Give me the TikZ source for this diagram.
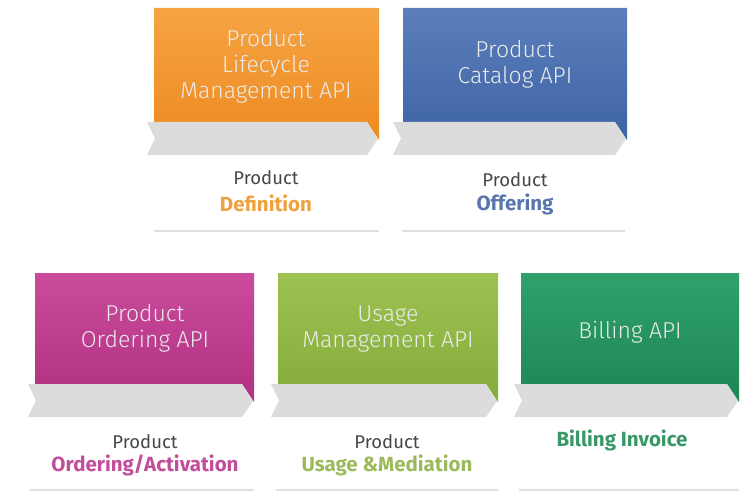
\documentclass[tikz,border=0pt]{standalone}
\usepackage{fontspec}
\setmainfont{Fira Sans}
\newfontfamily\firalight{Fira Sans Light}
\definecolor{lcotop}{HTML}{F5A443}
\definecolor{lcobot}{HTML}{EE8B21}
\definecolor{cattop}{HTML}{5C7FBB}
\definecolor{catbot}{HTML}{3E63A5}
\definecolor{ordtop}{HTML}{CA4A9C}
\definecolor{ordbot}{HTML}{B13181}
\definecolor{usgtop}{HTML}{9EC252}
\definecolor{usgbot}{HTML}{84AB3A}
\definecolor{biltop}{HTML}{30A06C}
\definecolor{bilbot}{HTML}{1D8754}
\definecolor{defcol}{HTML}{F0A03C}
\definecolor{offcol}{HTML}{5876AE}
\definecolor{ordcol}{HTML}{C24D9B}
\definecolor{usgcol}{HTML}{9CBA5C}
\definecolor{bilcol}{HTML}{3A9868}
\definecolor{chevgray}{HTML}{DCDCDC}
\begin{document}
\begin{tikzpicture}[x=1pt,y=-1pt,
	chev/.style={fill=chevgray},
	apitext/.style={font=\firalight\fontsize{23}{26}\selectfont,text=white!92!black,align=center},
	prodtext/.style={font=\fontsize{18.5}{22}\selectfont,text=black!72},
	kindtext/.style={font=\bfseries\fontsize{20.5}{22}\selectfont},
	sepline/.style={draw=black!12,line width=1.5pt}]
		\useasboundingbox (0,0) rectangle (744,492);
		% top row
		\shade[top color=lcotop,bottom color=lcobot] (154,8) -- (379,8) -- (379,140) -- (367,122) -- (154,122) -- cycle;
		\fill[chev] (147,122) -- (367,122) -- (378,139) -- (367,155) -- (147,155) -- (155,138.5) -- cycle;
		\shade[top color=cattop,bottom color=catbot] (403,8) -- (627,8) -- (627,140) -- (615,122) -- (403,122) -- cycle;
		\fill[chev] (393,122) -- (615,122) -- (626,139) -- (615,155) -- (393,155) -- (401,138.5) -- cycle;
		% bottom row
		\shade[top color=ordtop,bottom color=ordbot] (35,273) -- (254,273) -- (254,402) -- (242,384) -- (35,384) -- cycle;
		\fill[chev] (28,384) -- (242,384) -- (253,401) -- (242,417) -- (28,417) -- (36,400.5) -- cycle;
		\shade[top color=usgtop,bottom color=usgbot] (278,273) -- (498,273) -- (498,402) -- (486,384) -- (278,384) -- cycle;
		\fill[chev] (271,384) -- (486,384) -- (497,401) -- (486,417) -- (271,417) -- (279,400.5) -- cycle;
		\shade[top color=biltop,bottom color=bilbot] (521,273) -- (739,273) -- (739,402) -- (727,384) -- (521,384) -- cycle;
		\fill[chev] (514,384) -- (727,384) -- (738,401) -- (727,417) -- (514,417) -- (522,400.5) -- cycle;
		% api names
		\node[apitext] (lcapi) at (266,66) {Product\\Lifecycle\\Management API};
		\node[apitext] (catapi) at (515,64) {Product\\Catalog API};
		\node[apitext] (ordapi) at (145,328) {Product\\Ordering API};
		\node[apitext] (usgapi) at (388,329) {Usage\\Management API};
		\node[apitext] (bilapi) at (630,332) {Billing API};
		% what each one covers
		\node[prodtext] (lcprod) at (266,178) {Product};
		\node[kindtext,text=defcol] (lcdef) at (266,203) {Definition};
		\node[prodtext] (catprod) at (515,180) {Product};
		\node[kindtext,text=offcol] (catoff) at (515,204) {Offering};
		\node[prodtext] (ordprod) at (145,442) {Product};
		\node[kindtext,text=ordcol] (ordact) at (145,465) {Ordering/Activation};
		\node[prodtext] (usgprod) at (387,442) {Product};
		\node[kindtext,text=usgcol] (usgmed) at (387,465) {Usage \&Mediation};
		\node[kindtext,text=bilcol] (bilinv) at (622,440) {Billing Invoice};
		% separators
		\draw[sepline] (154,231) -- (379,231);
		\draw[sepline] (402,231) -- (625,231);
		\draw[sepline] (30,490) -- (254,490);
		\draw[sepline] (276,490) -- (498,490);
		\draw[sepline] (519,490) -- (739,490);
	\end{tikzpicture}
\end{document}
